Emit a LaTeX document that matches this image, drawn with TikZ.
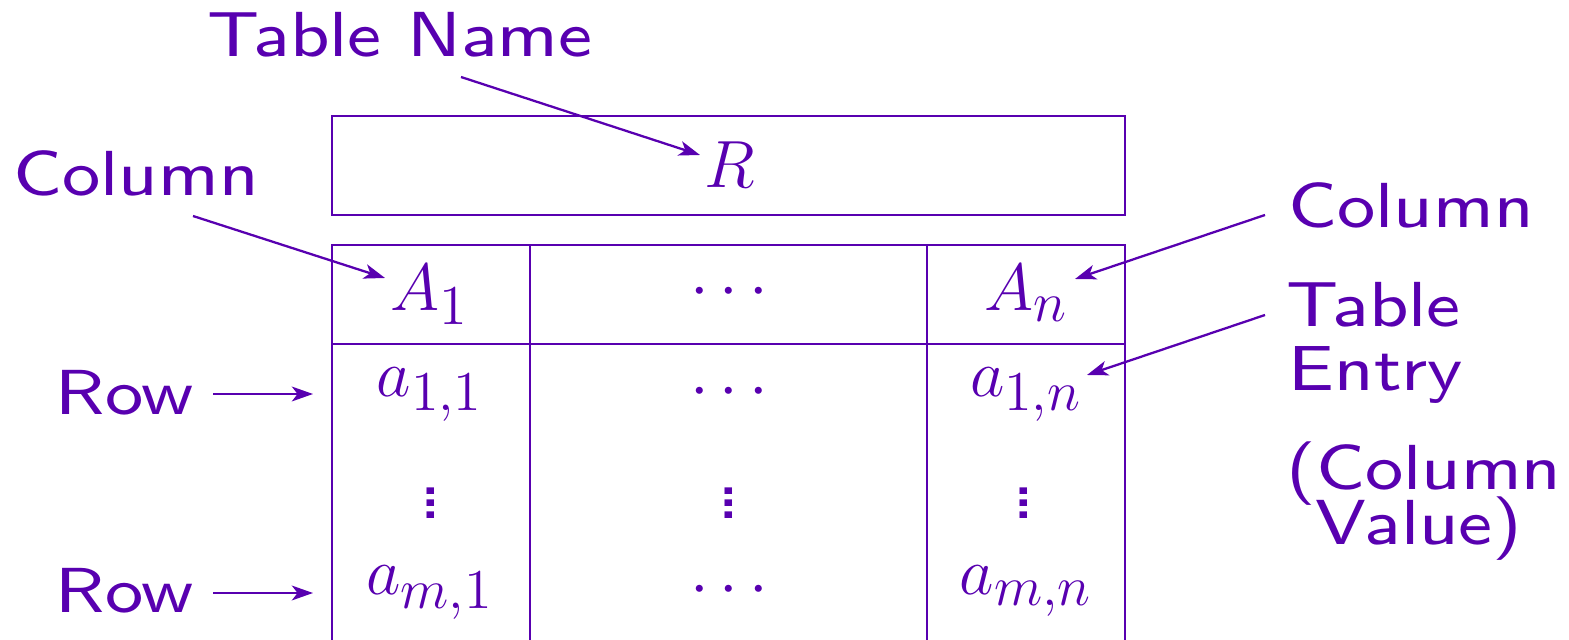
\documentclass[tikz,border=0pt]{standalone}
\usepackage{fix-cm}
\usepackage{fontspec}
\setsansfont{lmsans8-regular.otf}[FakeStretch=1.13]
\usetikzlibrary{arrows.meta}
\definecolor{purp}{RGB}{88,0,176}
\DeclareMathSizes{19}{19}{16}{12}
\newcommand\sqvdots{\vbox{\baselineskip3.5pt\lineskiplimit0pt\hbox{.}\hbox{.}\hbox{.}}}
\begin{document}
\begin{tikzpicture}[x=0.01cm,y=-0.01cm,
  every node/.style={text=purp, inner sep=0pt},
  lbl/.style={anchor=base west, font=\sffamily\fontsize{18.1}{22}\selectfont},
  clbl/.style={anchor=base, font=\sffamily\fontsize{18.1}{22}\selectfont},
  cell/.style={anchor=base, font=\fontsize{19}{23}\selectfont},
  mid/.style={anchor=center, font=\fontsize{19}{23}\selectfont},
  vd/.style={anchor=center, font=\sffamily\fontsize{21}{21}\selectfont},
  tline/.style={draw=purp, line width=0.65pt},
  arr/.style={draw=purp, line width=0.65pt, -{Stealth[length=6pt,width=4.2pt,inset=1.6pt]}}]
\useasboundingbox (0,0) rectangle (1569,640);
% table frame
\draw[tline] (332,116) rectangle (1125,215);
\draw[tline] (332,640) -- (332,245) -- (1125,245) -- (1125,640);
\draw[tline] (332,344) -- (1125,344);
\draw[tline] (530,245) -- (530,640);
\draw[tline] (927,245) -- (927,640);
% cells
\node[cell] (R) at (730,188) {$R$};
\node[cell] (A1) at (430,311) {$A_1$};
\node[mid] (hd) at (729,293) {$\cdots$};
\node[cell] (An) at (1026,311) {$A_n$};
\node[cell] (a11) at (430,397) {$a_{1,1}$};
\node[mid] (r1d) at (729,393) {$\cdots$};
\node[cell] (a1n) at (1026,397) {$a_{1,n}$};
\node[vd] (v1) at (431,503) {\sqvdots};
\node[vd] (v2) at (729,503) {\sqvdots};
\node[vd] (v3) at (1024,503) {\sqvdots};
\node[cell] (am1) at (430,595) {$a_{m,1}$};
\node[mid] (rmd) at (729,591) {$\cdots$};
\node[cell] (amn) at (1026,595) {$a_{m,n}$};
% labels
\node[lbl] (tn) at (207,57) {Table Name};
\node[lbl] (colL) at (13,196) {Column};
\node[lbl] (colR) at (1288,228) {Column};
\node[lbl] (teA) at (1286,327) {Table};
\node[lbl] (teB) at (1288,391) {Entry};
\node[clbl] (cvA) at (1424,490) {(Column};
\node[clbl] (cvB) at (1419,545) {Value)};
\node[lbl] (row1) at (55,415) {Row};
\node[lbl] (row2) at (55,613) {Row};
% arrow end points
\coordinate (tnS) at (461,77);
\coordinate (RE) at (700,155);
\coordinate (clS) at (193,216);
\coordinate (clE) at (385,278);
\coordinate (crS) at (1265,215);
\coordinate (crE) at (1075,279);
\coordinate (teS) at (1265,315);
\coordinate (teE) at (1087,375);
\coordinate (r1S) at (213,394);
\coordinate (r1E) at (313,394);
\coordinate (r2S) at (213,593);
\coordinate (r2E) at (313,593);
\draw[arr] (tnS) -- (RE);
\draw[arr] (clS) -- (clE);
\draw[arr] (crS) -- (crE);
\draw[arr] (teS) -- (teE);
\draw[arr] (r1S) -- (r1E);
\draw[arr] (r2S) -- (r2E);
\end{tikzpicture}
\end{document}
